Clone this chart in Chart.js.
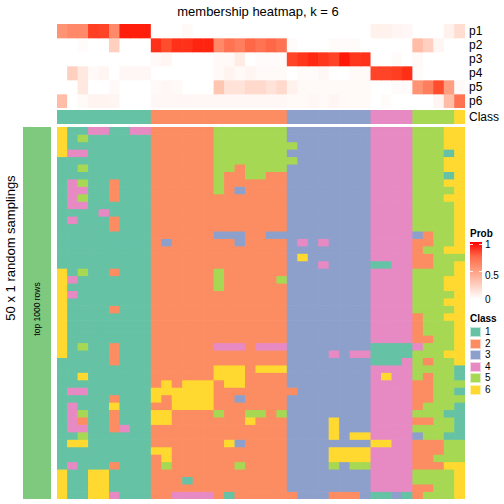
<!DOCTYPE html>
<html>
<head>
<meta charset="utf-8">
<script src="https://cdn.jsdelivr.net/npm/chart.js@4.4.1/dist/chart.umd.min.js"></script>
<style>
  body { margin: 0; width: 504px; height: 504px; background: #fff; position: relative; overflow: hidden;
         font-family: "Liberation Sans", Arial, sans-serif; }
  canvas { position: absolute; }
  .txt { position: absolute; color: #000; white-space: nowrap; line-height: 1; }
  .bold { font-weight: bold; }
  .box { position: absolute; width: 11px; height: 10px; box-sizing: border-box; border: 1px solid rgba(255,255,255,0.6); }
  .tick { position: absolute; width: 3px; height: 1px; background: rgba(255,255,255,0.85); }
</style>
</head>
<body>

<div class="txt" id="titulo" style="left:0;width:516px;top:5px;font-size:13px;text-align:center;">membership heatmap, k = 6</div>

<canvas id="grafico-prob" width="408" height="84" style="left:57px;top:24px;"></canvas>
<canvas id="grafico-classe" width="408" height="14" style="left:57px;top:110px;"></canvas>
<canvas id="grafico-amostras" width="408" height="372" style="left:57px;top:127px;"></canvas>
<div id="rotulos-linhas"></div>

<!-- barra lateral esquerda -->
<div style="position:absolute;left:23px;top:127px;width:28px;height:372px;background:#7FC97F;"></div>
<div class="txt" style="left:37px;top:309px;font-size:8.5px;transform:translate(-50%,-50%) rotate(-90deg);">top 1000 rows</div>
<div class="txt" style="left:10px;top:248px;font-size:13px;transform:translate(-50%,-50%) rotate(-90deg);">50 x 1 random samplings</div>

<!-- legendas -->
<div class="txt bold" style="left:470px;top:229px;font-size:10px;">Prob</div>
<div id="barra-prob" style="position:absolute;left:470px;top:242px;width:12px;height:57px;"></div>
<div class="tick" style="left:470px;top:244px;"></div>
<div class="tick" style="left:479px;top:244px;"></div>
<div class="tick" style="left:470px;top:271px;"></div>
<div class="tick" style="left:479px;top:271px;"></div>
<div class="txt" style="left:485px;top:240px;font-size:10px;">1</div>
<div class="txt" style="left:485px;top:271px;font-size:10px;">0.5</div>
<div class="txt" style="left:485px;top:295px;font-size:10px;">0</div>
<div class="txt bold" style="left:470px;top:314px;font-size:10px;">Class</div>
<div id="legenda-classe"></div>

<script>
// ===== dados =====
const CLASS_LEVELS = [1, 2, 3, 4, 5, 6];
const CLASS_COLORS = ['#66C2A5', '#FC8D62', '#8DA0CB', '#E78AC3', '#A6D854', '#FFD92F'];

// classe consenso de cada amostra (coluna)
const sampleClass = [1,1,1,1,1,1,1,1,1, 2,2,2,2,2,2,2,2,2,2,2,2,2, 3,3,3,3,3,3,3,3, 4,4,4,4, 5,5,5,5, 6];

// probabilidades de pertencimento
const probP1 = [0.55,0.6,0.6,0.9,0.88,0.6,0.97,0.97,0.97, 0,0,0,0.03,0,0,0,0,0,0,0,0,0, 0,0,0,0,0,0,0,0, 0.07,0.07,0.05,0.04, 0,0,0,0.07,0.18];
const probP2 = [0,0,0.02,0,0,0.25,0,0,0, 0.93,0.85,0.93,0.93,0.96,0.96,0.6,0.7,0.65,0.75,0.7,0.75,0.7, 0.02,0,0,0,0.02,0.02,0.02,0, 0,0,0,0, 0.35,0.25,0.05,0,0];
const probP3 = [0,0,0,0,0,0,0,0,0, 0.03,0.05,0,0,0,0,0.03,0.03,0.1,0,0.02,0.02,0.02, 0.88,0.92,0.95,0.92,0.88,0.98,0.92,0.93, 0,0,0.02,0, 0.03,0,0,0,0];
const probP4 = [0,0.25,0.12,0.03,0.05,0,0.04,0.04,0.04, 0,0,0,0,0,0,0.03,0.06,0.03,0.05,0.03,0.03,0.03, 0,0.02,0.02,0.04,0,0,0.03,0.03, 0.88,0.88,0.9,0.94, 0.02,0,0,0,0];
const probP5 = [0,0,0.12,0,0,0.03,0,0,0, 0.03,0.04,0.03,0,0,0,0.3,0.15,0.15,0.2,0.2,0.15,0.2, 0.07,0.03,0.03,0.03,0.03,0.03,0.03,0.03, 0,0,0.02,0.02, 0.55,0.65,0.85,0.5,0.03];
const probP6 = [0.35,0,0.03,0.06,0.06,0.05,0,0,0, 0.04,0.04,0.04,0.04,0.04,0.04,0.04,0.04,0.04,0.04,0.04,0.04,0.04, 0.03,0.03,0.04,0.03,0.05,0.03,0.03,0.03, 0,0.02,0,0, 0,0,0.05,0.35,0.7];
const probLabels = ['p1', 'p2', 'p3', 'p4', 'p5', 'p6'];

// classe em cada uma das 50 amostragens (linhas), grupos separados por espaço
const samplingRows = [
  '611441144 2222225555555 33333333 4444 5556 6',
  '615111111 2222225555555 33333333 4444 5556 6',
  '611111111 2222225555555 53333333 4444 5556 6',
  '644111111 2222225555555 33333333 4444 5551 6',
  '111111111 2222225555555 53333333 4444 5556 6',
  '115111111 2222225525555 33333333 4444 5556 6',
  '111111111 2222225225522 33333333 4444 5551 6',
  '145112111 2222225222222 33333333 4444 5556 6',
  '144112111 2222225232222 33333333 4444 5555 6',
  '145112111 2222222222222 33333333 4444 5556 6',
  '144111111 2222222222222 33333333 4444 5555 6',
  '111141111 2222222222222 33333333 4444 5555 6',
  '141112111 2222222222222 33333333 4444 5555 6',
  '111112111 2222222222222 33333333 4444 5555 6',
  '111111111 2222223332233 33333333 4444 3255 6',
  '111111111 2322222232222 34343333 4444 2255 6',
  '111111111 2222222222222 33333333 4444 2556 6',
  '111111111 2222222222222 36333333 4444 2255 5',
  '111111111 2222222222222 33343333 1144 2255 6',
  '615112111 2222225222222 33333333 4444 5555 6',
  '641111111 2222225222225 33333333 4444 5556 6',
  '611111111 2222225222222 33333333 4444 5556 6',
  '641111111 2222222222222 33333333 4444 5555 6',
  '611111111 2222222222222 33333333 4444 5556 6',
  '611112111 2222222222222 33333333 4444 5555 6',
  '611111111 2222222222222 33333333 4444 2556 6',
  '611111111 2222222222222 33333333 4444 2555 6',
  '611111111 2222222222222 33333333 4444 2555 6',
  '611111111 2222222222222 33333333 4444 2255 6',
  '615112111 2222224442444 33333333 1111 4555 6',
  '611112111 2222222222222 33334344 1111 5556 6',
  '111112111 2222222222222 33333333 1114 5255 6',
  '111111111 2222226662666 33333333 4444 5555 1',
  '116111111 2222226662222 33333333 4644 5255 1',
  '111111111 2626662662222 33333333 4444 2255 5',
  '144111111 6666662222222 23333333 4444 2255 1',
  '111112111 6266662232222 33333333 4444 2255 5',
  '141116111 2266662222222 33333333 4444 2555 1',
  '145112111 6622225225525 33333333 4444 5551 1',
  '142112111 6622222226222 33336333 4444 2255 1',
  '144112411 2222222222222 33336333 4444 5555 1',
  '115111111 2222222222222 33336366 4444 3551 1',
  '166111111 2222222632222 33333333 6644 2225 5',
  '111111111 6622222222222 33336666 4444 2225 5',
  '111111111 2622222222222 33336666 4444 2255 5',
  '141112111 2522222252222 33335355 4444 2226 6',
  '611661111 2222222222222 33333333 4444 5555 6',
  '611661111 2221222222222 33333333 4444 5555 6',
  '611661111 2222222222222 33333333 4444 2255 6',
  '611664111 2244442122222 23332223 1131 2555 6',
];

// ===== cores =====
function rgbParaLab(r, g, b) {
  const lin = (c) => { c /= 255; return c <= 0.04045 ? c / 12.92 : Math.pow((c + 0.055) / 1.055, 2.4); };
  const R = lin(r), G = lin(g), B = lin(b);
  const X = (0.4124 * R + 0.3576 * G + 0.1805 * B) / 0.95047;
  const Y = (0.2126 * R + 0.7152 * G + 0.0722 * B);
  const Z = (0.0193 * R + 0.1192 * G + 0.9505 * B) / 1.08883;
  const f = (t) => t > 0.008856 ? Math.cbrt(t) : 7.787 * t + 16 / 116;
  const fx = f(X), fy = f(Y), fz = f(Z);
  return [116 * fy - 16, 500 * (fx - fy), 200 * (fy - fz)];
}

function labParaRgb(L, a, b) {
  const fy = (L + 16) / 116, fx = fy + a / 500, fz = fy - b / 200;
  const inv = (t) => t * t * t > 0.008856 ? t * t * t : (t - 16 / 116) / 7.787;
  const X = 0.95047 * inv(fx), Y = inv(fy), Z = 1.08883 * inv(fz);
  const r = 3.2406 * X - 1.5372 * Y - 0.4986 * Z;
  const g = -0.9689 * X + 1.8758 * Y + 0.0415 * Z;
  const bb = 0.0557 * X - 0.2040 * Y + 1.0570 * Z;
  const gam = (c) => {
    c = c <= 0.0031308 ? 12.92 * c : 1.055 * Math.pow(c, 1 / 2.4) - 0.055;
    return Math.round(Math.min(1, Math.max(0, c)) * 255);
  };
  return [gam(r), gam(g), gam(bb)];
}

const LAB_BRANCO = rgbParaLab(255, 255, 255);
const LAB_VERMELHO = rgbParaLab(255, 0, 0);

function corProb(p) {
  const lab = LAB_BRANCO.map((w, i) => w + (LAB_VERMELHO[i] - w) * p);
  const [r, g, b] = labParaRgb(lab[0], lab[1], lab[2]);
  return `rgb(${r},${g},${b})`;
}

const corClasse = (c) => CLASS_COLORS[CLASS_LEVELS.indexOf(c)];

// ===== heatmap genérico (barras empilhadas, uma série por linha) =====
const rotulosAmostras = sampleClass.map((_, i) => `s${i + 1}`);

function criarHeatmap(id, linhasCores) {
  const nLinhas = linhasCores.length;
  return new Chart(document.getElementById(id), {
    type: 'bar',
    data: {
      labels: rotulosAmostras,
      datasets: linhasCores.map((cores) => ({
        data: cores.map(() => 1),
        backgroundColor: cores,
        borderWidth: 0,
        barPercentage: 1,
        categoryPercentage: 1,
      })),
    },
    options: {
      responsive: false,
      animation: false,
      events: [],
      layout: { padding: 0 },
      plugins: { legend: { display: false }, tooltip: { enabled: false } },
      scales: {
        x: { stacked: true, display: false },
        y: { stacked: true, display: false, reverse: true, min: 0, max: nLinhas },
      },
    },
  });
}

// rótulos das linhas à direita (p1..p6, Class)
function rotularLinhas(rotulos, topo, altura) {
  const cont = document.getElementById('rotulos-linhas');
  rotulos.forEach((r, i) => {
    const el = document.createElement('div');
    el.className = 'txt';
    el.style.left = '469px';
    el.style.top = `${topo + i * altura + altura / 2}px`;
    el.style.fontSize = '12px';
    el.style.transform = 'translateY(-50%)';
    el.textContent = r;
    cont.appendChild(el);
  });
}

// ===== montar =====
const probs = [probP1, probP2, probP3, probP4, probP5, probP6];
criarHeatmap('grafico-prob', probs.map((linha) => linha.map(corProb)));
criarHeatmap('grafico-classe', [sampleClass.map(corClasse)]);
rotularLinhas(probLabels, 24, 14);
rotularLinhas(['Class'], 110, 14);

const gradeClasses = samplingRows.map((s) => s.replace(/ /g, '').split('').map(Number));
criarHeatmap('grafico-amostras', gradeClasses.map((linha) => linha.map(corClasse)));

// legenda de probabilidade
const paradas = [1, 0.75, 0.5, 0.25, 0].map((p, i) => `${corProb(p)} ${i * 25}%`);
document.getElementById('barra-prob').style.background = `linear-gradient(to bottom, ${paradas.join(', ')})`;

// legenda de classes
const legenda = document.getElementById('legenda-classe');
CLASS_LEVELS.forEach((c, i) => {
  const y = 327 + i * 11.6;
  const caixa = document.createElement('div');
  caixa.className = 'box';
  caixa.style.left = '470px';
  caixa.style.top = `${y}px`;
  caixa.style.background = corClasse(c);
  legenda.appendChild(caixa);
  const rot = document.createElement('div');
  rot.className = 'txt';
  rot.style.left = '485px';
  rot.style.top = `${y}px`;
  rot.style.fontSize = '10px';
  rot.textContent = c;
  legenda.appendChild(rot);
});
</script>
</body>
</html>
